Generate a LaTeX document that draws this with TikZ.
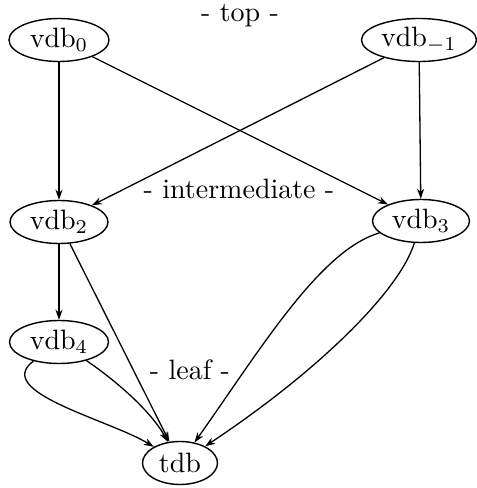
\documentclass[tikz,border=0pt]{standalone}
\usetikzlibrary{shapes.geometric,arrows.meta}
\newcommand{\bigtxt}[1]{\scalebox{2.8}{#1}}
\begin{document}
\begin{tikzpicture}[x=1pt,y=1pt,
  db/.style={ellipse,draw,line width=1.4pt,inner sep=0pt,minimum height=43pt},
  lbl/.style={inner sep=0pt,anchor=base},
  edge/.style={line width=1.3pt,-{Stealth[length=10pt,width=7pt,inset=3pt]}}]
\useasboundingbox (0,0) rectangle (477,488);
% y' = 488 - y
\node[db,minimum width=100pt] (v0) at (59,448) {\bigtxt{vdb$_0$}};
\node[db,minimum width=115pt] (vm1) at (419,448) {\bigtxt{vdb$_{-1}$}};
\node[db,minimum width=98pt] (v2) at (59,266) {\bigtxt{vdb$_2$}};
\node[db,minimum width=97pt] (v3) at (421,267) {\bigtxt{vdb$_3$}};
\node[db,minimum width=99pt] (v4) at (59,146) {\bigtxt{vdb$_4$}};
\node[db,minimum width=75pt] (t) at (180,25) {\bigtxt{tdb}};
\node[lbl] (ltop) at (240,466) {\bigtxt{- top -}};
\node[lbl] (lint) at (239,289) {\bigtxt{- intermediate -}};
\node[lbl] (lleaf) at (190,108) {\bigtxt{- leaf -}};
\draw[edge] (v0) -- (v2);
\draw[edge] (v0) -- (v3);
\draw[edge] (vm1) -- (v2);
\draw[edge] (vm1) -- (v3);
\draw[edge] (v2) -- (v4);
\draw[edge] (v2) -- (t);
\draw[edge] (v4) .. controls (-8,96) and (110,68) .. (t);
\draw[edge] (v4) .. controls (115,108) and (150,78) .. (t);
\draw[edge] (v3) .. controls (320,238) and (260,138) .. (t);
\draw[edge] (v3) .. controls (400,198) and (320,118) .. (t);
\end{tikzpicture}
\end{document}
